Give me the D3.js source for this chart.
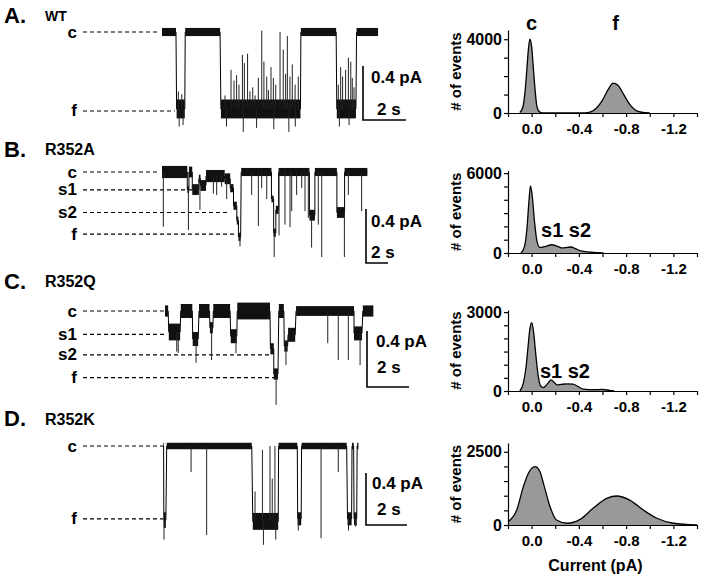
<!doctype html>
<html lang="en">
<head>
  <meta charset="utf-8">
  <title>Single-channel records and amplitude histograms</title>
  <style>
    body { margin: 0; background: #fff; }
    svg { display: block; font-family: "Liberation Sans", Arial, sans-serif; font-weight: bold; }
    text { fill: #000; }
    .dash { stroke: #000; stroke-width: 1.2px; stroke-dasharray: 4,3; }
    .trace { fill: none; stroke: #000; stroke-width: 1px; }
    .band { fill: #111; }
    .spike { stroke: #222; stroke-width: 1px; }
    .bar { stroke: #000; stroke-width: 1.6px; fill: none; }
    .hist { fill: #999; stroke: none; }
    .outline { fill: none; stroke: #000; stroke-width: 1.3px; }
    .axis path, .axis line { stroke: #000; stroke-width: 1.2px; }
    .axis text { font: bold 15px "Liberation Sans", Arial, sans-serif; fill: #000; }
    .yaxis text { font-size: 16px; }
  </style>
</head>
<body>
<svg id="fig" width="705" height="578"></svg>
<script src="https://d3js.org/d3.v7.min.js"></script>
<script>
  // ---- data ----
  // current levels: [label, current (pA), dashed line runs until time (s)]
  var levelsA = [["c", 0, -0.1], ["f", -0.585, 0.6]]
  var levelsB = [["c", 0, -0.2], ["s1", -0.133, 2.8], ["s2", -0.3, 6.0], ["f", -0.46, 6.7]]
  var levelsC = [["c", 0, 0], ["s1", -0.167, 0.1], ["s2", -0.314, 5.0], ["f", -0.476, 5.38]]
  var levelsD = [["c", 0, 0], ["f", -0.56, 0]]

  // dwells: [start (s), end (s), current (pA), peak-to-peak noise (pA)]
  var dwellsA = [[0, 0.65, 0, 0.06], [0.68, 1.06, -0.57, 0.14], [1.08, 2.7, 0, 0.06],
    [2.74, 6.44, -0.57, 0.14], [6.46, 8.1, 0, 0.06], [8.13, 9.02, -0.57, 0.14], [9.05, 10.05, 0, 0.06]]
  var dwellsB = [[0, 2.3, 0, 0.09], [2.3, 2.45, -0.13, 0.05], [2.45, 2.75, 0, 0.08],
    [2.75, 3.35, -0.13, 0.08], [3.35, 3.5, -0.05, 0.06], [3.5, 4.0, -0.1, 0.08],
    [4.0, 5.7, -0.03, 0.09], [5.7, 6.2, -0.05, 0.08], [6.2, 6.5, -0.12, 0.06],
    [6.5, 6.8, -0.25, 0.06], [6.8, 6.95, -0.36, 0.06], [6.95, 7.15, -0.48, 0.06],
    [7.2, 9.95, 0, 0.06], [9.95, 10.15, -0.2, 0.05], [10.15, 10.35, -0.45, 0.06],
    [10.35, 10.6, -0.28, 0.06], [10.6, 13.4, 0, 0.06], [13.4, 13.9, -0.32, 0.08],
    [13.9, 15.9, 0, 0.06], [15.9, 16.6, -0.3, 0.08], [16.6, 18.67, 0, 0.06]]
  var dwellsC = [[0, 0.15, 0, 0.08], [0.18, 0.72, -0.15, 0.12], [0.75, 1.3, 0, 0.1],
    [1.32, 1.58, -0.2, 0.1], [1.62, 2.12, 0, 0.1], [2.14, 2.28, -0.12, 0.08],
    [2.3, 3.1, 0, 0.1], [3.13, 3.42, -0.18, 0.1], [3.44, 5.0, 0, 0.12],
    [5.02, 5.18, -0.27, 0.08], [5.18, 5.38, -0.45, 0.08], [5.42, 5.66, 0, 0.1],
    [5.68, 5.84, -0.25, 0.08], [5.86, 6.2, -0.17, 0.1], [6.24, 9.0, 0, 0.07],
    [9.0, 9.38, -0.16, 0.1], [9.42, 9.92, 0, 0.08]]
  var dwellsD = [[0, 0.03, 0, 0.05], [0.04, 0.14, -0.57, 0.12], [0.18, 4.33, 0, 0.05],
    [4.38, 5.62, -0.58, 0.13], [5.64, 6.55, 0, 0.05], [6.57, 6.74, -0.56, 0.1],
    [6.76, 8.96, 0, 0.05], [9.0, 9.2, -0.56, 0.1], [9.22, 9.3, 0, 0.05],
    [9.32, 9.45, -0.56, 0.1], [9.47, 9.53, 0, 0.05]]

  // brief events: [time (s), peak current (pA)]
  var spikesA = [[0.76, -0.44], [0.92, -0.46], [0.8, -0.70], [0.98, -0.69],
    [2.93, -0.47], [3.0, -0.70], [3.21, -0.28], [3.35, -0.36], [3.47, -0.32], [3.58, -0.39],
    [3.74, -0.17], [3.78, -0.74], [3.83, -0.23], [3.98, -0.16], [4.09, -0.44], [4.22, -0.41],
    [4.33, -0.47], [4.4, -0.71], [4.48, -0.34], [4.64, 0.01], [4.74, -0.22], [4.87, -0.33],
    [4.95, -0.43], [5.07, -0.26], [5.18, -0.34], [5.2, -0.72], [5.29, -0.39], [5.49, 0.0],
    [5.64, -0.13], [5.75, -0.31], [5.83, -0.03], [5.9, -0.74], [5.95, -0.33], [6.06, -0.24],
    [6.19, -0.39], [6.2, -0.70], [6.34, -0.33],
    [8.2, -0.39], [8.25, -0.70], [8.31, -0.26], [8.4, -0.33], [8.54, -0.28], [8.67, -0.19],
    [8.7, -0.69], [8.78, -0.22], [8.85, -0.34], [8.93, -0.41]]
  var spikesB = [[0.12, -0.405], [2.4, -0.43], [3.45, -0.28], [4.67, -0.16], [4.97, -0.17],
    [5.42, -0.11], [5.88, -0.2], [7.09, -0.55], [8.15, -0.17], [8.76, -0.40], [9.06, -0.12],
    [9.52, -0.2], [10.2, -0.63], [10.64, -0.47], [11.18, -0.39], [11.64, -0.41], [11.79, -0.29],
    [12.24, -0.17], [12.7, -0.12], [13.0, -0.29], [13.3, -0.34], [13.6, -0.56], [14.21, -0.39],
    [14.52, -0.63], [16.58, -0.63], [16.94, -0.17], [18.15, -0.29]]
  var spikesC = [[0.56, -0.29], [0.63, -0.30], [1.48, -0.37], [2.22, -0.35], [3.38, -0.30],
    [5.29, -0.67], [5.76, -0.386], [7.75, -0.23], [8.25, -0.35], [8.73, -0.35], [9.29, -0.386]]
  var spikesD = [[0.05, -0.72], [1.37, -0.2], [2.13, -0.685], [4.49, -0.35], [4.85, -0.03],
    [5.22, 0.0], [5.33, -0.25], [5.46, 0.0], [4.9, -0.76], [5.5, -0.72], [6.6, -0.65],
    [7.71, -0.71], [8.55, -0.2], [9.05, -0.65], [9.4, -0.62]]

  // amplitude histograms: [current (pA), # of events]
  var histA = [[0.1, 30], [0.075, 300], [0.055, 1200], [0.04, 2400], [0.025, 3600], [0.014, 4000],
    [0.0, 3600], [-0.015, 2400], [-0.03, 1200], [-0.045, 350], [-0.07, 50], [-0.1, 0],
    [-0.45, 0], [-0.5, 60], [-0.55, 270], [-0.6, 700], [-0.65, 1290], [-0.69, 1620],
    [-0.73, 1500], [-0.78, 1000], [-0.83, 470], [-0.88, 150], [-0.93, 40], [-1.0, 0]]
  var histB = [[0.09, 0], [0.06, 500], [0.04, 1800], [0.025, 3600], [0.01, 5050], [-0.005, 4300],
    [-0.025, 2300], [-0.045, 900], [-0.07, 420], [-0.11, 480], [-0.17, 620], [-0.22, 500],
    [-0.26, 380], [-0.3, 420], [-0.335, 450], [-0.37, 330], [-0.41, 170], [-0.47, 90],
    [-0.52, 50], [-0.61, 0]]
  var histC = [[0.1, 0], [0.07, 300], [0.045, 1000], [0.03, 1700], [0.015, 2350], [0.0, 2600],
    [-0.015, 2300], [-0.035, 1400], [-0.055, 600], [-0.075, 200], [-0.1, 130], [-0.135, 280],
    [-0.165, 420], [-0.19, 330], [-0.215, 230], [-0.25, 250], [-0.3, 270], [-0.35, 260],
    [-0.39, 180], [-0.44, 70], [-0.52, 50], [-0.6, 60], [-0.66, 20], [-0.7, 0]]
  var histD = [[0.2, 110], [0.126, 510], [0.07, 1310], [0.028, 1760], [-0.029, 1990],
    [-0.071, 1820], [-0.1, 1420], [-0.156, 625], [-0.21, 170], [-0.3, 60], [-0.41, 190],
    [-0.52, 570], [-0.636, 910], [-0.72, 990], [-0.83, 850], [-0.946, 510], [-1.06, 230],
    [-1.2, 60], [-1.4, 0]]

  var countTicksA = [0, 1000, 2000, 3000, 4000]
  var countTicksB = [0, 1000, 2000, 3000, 4000, 5000, 6000]
  var countTicksC = [0, 500, 1000, 1500, 2000, 2500, 3000]
  var countTicksD = [0, 500, 1000, 1500, 2000, 2500]
  var countMax = [4500, 6200, 3080, 2800]

  var currentTicks = [0.2, 0, -0.2, -0.4, -0.6, -0.8, -1, -1.2, -1.4]
  var currentLabels = {"0": "0.0", "-0.4": "-0.4", "-0.8": "-0.8", "-1.2": "-1.2"}

  var peakLabelsA = [["c", 0.0], ["f", -0.71]]
  var peakLabelsB = [["s1 s2", -0.08]]
  var peakLabelsC = [["s1 s2", -0.07]]

  var panelLetters = ["A.", "B.", "C.", "D."]
  var constructs = ["WT", "R352A", "R352Q", "R352K"]

  // ---- layout ----
  var rows = [
    {ly: 23, ny: 21, nsize: 14, x: [162, 377], tmax: 10, y0: 32, h04: 54, bar: [363, 120],
      pA: [8, -37], sec: [14, -5], hist: [113, 30], peakY: 30, anchor: "middle"},
    {ly: 157, ny: 155, nsize: 16, x: [162, 367.7], tmax: 18.7, y0: 172, h04: 54, bar: [366, 263],
      pA: [5, -36], sec: [5, -5], hist: [253, 170.5], peakY: 237, anchor: "start"},
    {ly: 289, ny: 287, nsize: 16, x: [165, 375], tmax: 10, y0: 311, h04: 56, bar: [367, 387],
      pA: [9, -40], sec: [10, -14], hist: [391, 310], peakY: 378, anchor: "start"},
    {ly: 426, ny: 425, nsize: 16, x: [163, 368], tmax: 10, y0: 446, h04: 52, bar: [366, 525],
      pA: [6, -36], sec: [11, -10], hist: [525, 443], peakY: 0, anchor: "start"}
  ]
  var panels = [
    {levels: levelsA, dwells: dwellsA, spikes: spikesA, hist: histA, ticks: countTicksA, peaks: peakLabelsA},
    {levels: levelsB, dwells: dwellsB, spikes: spikesB, hist: histB, ticks: countTicksB, peaks: peakLabelsB},
    {levels: levelsC, dwells: dwellsC, spikes: spikesC, hist: histC, ticks: countTicksC, peaks: peakLabelsC},
    {levels: levelsD, dwells: dwellsD, spikes: spikesD, hist: histD, ticks: countTicksD, peaks: []}
  ]

  var svg = d3.select("#fig")
  var histX = d3.scaleLinear().domain([0.2, -1.4]).range([508, 697])

  panels.forEach(function(p, k) {
    var r = rows[k]
    var g = svg.append("g")
    var x = d3.scaleLinear().domain([0, r.tmax]).range(r.x)
    var y = d3.scaleLinear().domain([0, -0.4]).range([r.y0, r.y0 + r.h04])

    g.append("text").attr("x", 4).attr("y", r.ly).style("font-size", "22px").text(panelLetters[k])
    g.append("text").attr("x", 45).attr("y", r.ny).style("font-size", r.nsize + "px").text(constructs[k])

    // level labels and dashed guides
    p.levels.forEach(function(l) {
      g.append("text").attr("x", 77).attr("y", y(l[1]) + 5.5)
        .attr("text-anchor", "end").style("font-size", "17px").text(l[0])
      g.append("line").attr("class", "dash")
        .attr("x1", 83).attr("x2", x(l[2])).attr("y1", y(l[1])).attr("y2", y(l[1]))
    })

    // idealised record: transitions, noise bands, brief events
    var pts = []
    p.dwells.forEach(function(d) { pts.push([d[0], d[2]], [d[1], d[2]]) })
    g.append("path").attr("class", "trace")
      .attr("d", d3.line().x(function(d) { return x(d[0]) }).y(function(d) { return y(d[1]) })(pts))

    g.selectAll("rect.band").data(p.dwells).enter().append("rect").attr("class", "band")
      .attr("x", function(d) { return x(d[0]) })
      .attr("width", function(d) { return x(d[1]) - x(d[0]) })
      .attr("y", function(d) { return y(d[2] + d[3] / 2) })
      .attr("height", function(d) { return y(d[2] - d[3] / 2) - y(d[2] + d[3] / 2) })

    function baseLevel(t) {
      var best = p.dwells[0], dist = Infinity
      p.dwells.forEach(function(d) {
        var dd = t < d[0] ? d[0] - t : (t > d[1] ? t - d[1] : 0)
        if (dd < dist) { dist = dd; best = d }
      })
      return best[2]
    }
    g.selectAll("line.spike").data(p.spikes).enter().append("line").attr("class", "spike")
      .attr("x1", function(d) { return x(d[0]) }).attr("x2", function(d) { return x(d[0]) })
      .attr("y1", function(d) { return y(baseLevel(d[0])) }).attr("y2", function(d) { return y(d[1]) })

    // scale bars
    var bx = r.bar[0], by = r.bar[1]
    var vLen = y(-0.4) - y(0), hLen = x(2) - x(0)
    g.append("path").attr("class", "bar")
      .attr("d", "M" + bx + "," + (by - vLen) + "V" + by + "H" + (bx + hLen))
    g.append("text").attr("x", bx + r.pA[0]).attr("y", by + r.pA[1]).style("font-size", "17px").text("0.4 pA")
    g.append("text").attr("x", bx + r.sec[0]).attr("y", by + r.sec[1]).style("font-size", "17px").text("2 s")

    // amplitude histogram
    var hy = d3.scaleLinear().domain([0, countMax[k]]).range(r.hist)
    var area = d3.area().curve(d3.curveMonotoneX)
      .x(function(d) { return histX(d[0]) }).y0(hy(0)).y1(function(d) { return hy(d[1]) })
    var line = d3.line().curve(d3.curveMonotoneX)
      .x(function(d) { return histX(d[0]) }).y(function(d) { return hy(d[1]) })
    g.append("path").attr("class", "hist").attr("d", area(p.hist))
    g.append("path").attr("class", "outline").attr("d", line(p.hist))

    var top = p.ticks[p.ticks.length - 1]
    g.append("g").attr("class", "axis yaxis").attr("transform", "translate(508,0)")
      .call(d3.axisLeft(hy).tickValues(p.ticks).tickSize(4).tickPadding(2).tickSizeOuter(0)
        .tickFormat(function(v) { return (v === 0 || v === top) ? String(v) : "" }))
    g.append("g").attr("class", "axis").attr("transform", "translate(0," + r.hist[0] + ")")
      .call(d3.axisBottom(histX).tickValues(currentTicks).tickSize(4).tickPadding(6).tickSizeOuter(0)
        .tickFormat(function(v) { return currentLabels[String(v)] || "" }))

    g.append("text").attr("transform", "translate(461," + (r.hist[0] + r.hist[1]) / 2 + ") rotate(-90)")
      .attr("text-anchor", "middle").style("font-size", "15px").text("# of events")

    p.peaks.forEach(function(pk) {
      g.append("text").attr("x", histX(pk[1])).attr("y", r.peakY)
        .attr("text-anchor", r.anchor).style("font-size", "20px").text(pk[0])
    })
  })

  svg.append("text").attr("x", histX(-0.54)).attr("y", 571)
    .attr("text-anchor", "middle").style("font-size", "16px").text("Current (pA)")
</script>
</body>
</html>
